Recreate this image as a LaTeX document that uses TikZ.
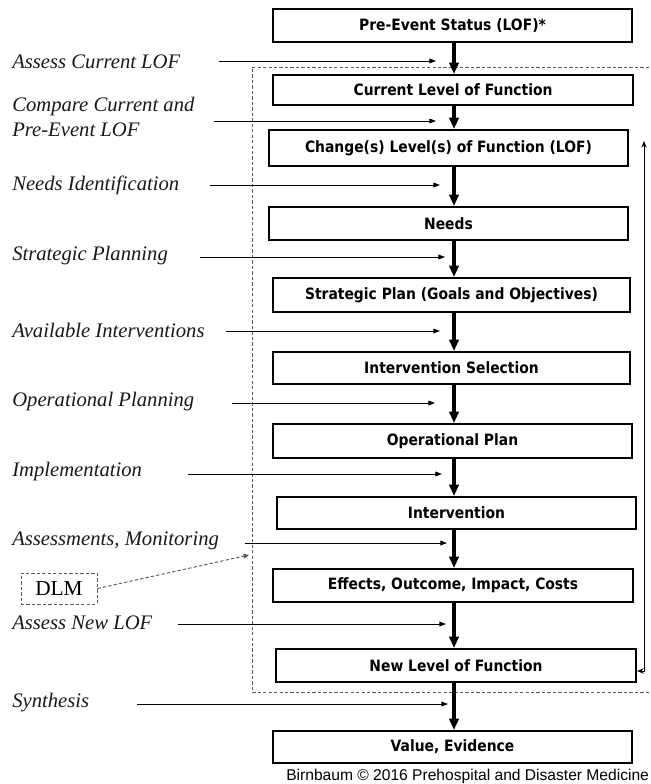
\documentclass[tikz,border=0pt]{standalone}
\usepackage{fontspec}
\setmainfont{Liberation Serif}
\newfontfamily\boxfont[FakeStretch=0.89]{DejaVu Sans}
\newfontfamily\creditfont{Liberation Sans}
\usetikzlibrary{arrows.meta}
\begin{document}
\begin{tikzpicture}[x=0.75pt,y=-0.75pt,
  box/.style={draw, line width=1.5pt, fill=white, inner sep=0pt,
    font=\boxfont\bfseries\fontsize{11.7}{13}\selectfont},
  lbl/.style={anchor=west, inner sep=0pt, align=left, text=black!90,
    font=\itshape\fontsize{15.5}{18.75}\selectfont},
  flow/.style={line width=2.3pt, -{Triangle[length=8.5pt,width=7pt]}},
  inarr/.style={line width=0.7pt, -{Triangle[length=5pt,width=3.6pt]}},
  grpdash/.style={line width=0.7pt, draw=black!65, dash pattern=on 2.5pt off 1.6pt},
  fbarr/.style={line width=0.7pt, {Stealth[length=5pt,width=4pt]}-{Stealth[length=5pt,width=4pt]}}]
\useasboundingbox (0,0) rectangle (650,784);
\fill[white] (0,0) rectangle (650,784);

% group (dashed) region
\draw[grpdash] (660,67) -- (252,67) -- (252,692) -- (660,692);

% boxes
\node[box, minimum width=269.25pt, minimum height=24.75pt] (pre)    at (452.5,25.5) {Pre-Event Status (LOF)*};
\node[box, minimum width=270pt,    minimum height=22.5pt]  (cur)    at (453,90)     {Current Level of Function};
\node[box, minimum width=269.25pt, minimum height=27pt]    (chg)    at (448.5,148)  {Change(s) Level(s) of Function (LOF)};
\node[box, minimum width=269.25pt, minimum height=24.75pt] (needs)  at (448.5,223.5){Needs};
\node[box, minimum width=267.75pt, minimum height=25.5pt]  (strat)  at (451.5,295)  {Strategic Plan (Goals and Objectives)};
\node[box, minimum width=267.75pt, minimum height=24pt]    (isel)   at (451.5,368)  {Intervention Selection};
\node[box, minimum width=269.25pt, minimum height=25.5pt]  (oplan)  at (452.5,441)  {Operational Plan};
\node[box, minimum width=269.25pt, minimum height=24pt]    (interv) at (456.5,513)  {Intervention};
\node[box, minimum width=270pt,    minimum height=24.75pt] (eff)    at (453,585.5)  {Effects, Outcome, Impact, Costs};
\node[box, minimum width=270pt,    minimum height=24.75pt] (newlof) at (456,665.5)  {New Level of Function};
\node[box, minimum width=269.25pt, minimum height=24pt]    (value)  at (452.5,747)  {Value, Evidence};

% main flow arrows
\coordinate (ax) at (454,0);
\draw[flow] (pre.south -| ax)    -- (cur.north -| ax);
\draw[flow] (cur.south -| ax)    -- (chg.north -| ax);
\draw[flow] (chg.south -| ax)    -- (needs.north -| ax);
\draw[flow] (needs.south -| ax)  -- (strat.north -| ax);
\draw[flow] (strat.south -| ax)  -- (isel.north -| ax);
\draw[flow] (isel.south -| ax)   -- (oplan.north -| ax);
\draw[flow] (oplan.south -| ax)  -- (interv.north -| ax);
\draw[flow] (interv.south -| ax) -- (eff.north -| ax);
\draw[flow] (eff.south -| ax)    -- (newlof.north -| ax);
\draw[flow] (newlof.south -| ax) -- (value.north -| ax);

% feedback loop
\coordinate (fbtop) at (644,141);
\coordinate (fbbot) at (644,671);
\draw[fbarr] (fbtop) -- (fbbot) -- (fbbot -| newlof.east);

% left labels
\node[lbl] (l1)  at (12,62)    {Assess Current LOF};
\node[lbl] (l2)  at (12,116.5) {Compare Current and\\Pre-Event LOF};
\node[lbl] (l3)  at (12,185)   {Needs Identification};
\node[lbl] (l4)  at (12,256)   {Strategic Planning};
\node[lbl] (l5)  at (12,330)   {Available Interventions};
\node[lbl] (l6)  at (12,402)   {Operational Planning};
\node[lbl] (l7)  at (12,472)   {Implementation};
\node[lbl] (l8)  at (12,541)   {Assessments, Monitoring};
\node[lbl] (l9)  at (12,623)   {Assess New LOF};
\node[lbl] (l10) at (12,703)   {Synthesis};

% input arrows
\coordinate (a1s) at (219,61);   \coordinate (a1e) at (436,61);
\coordinate (a2s) at (214,121);  \coordinate (a2e) at (436,121);
\coordinate (a3s) at (210,185);  \coordinate (a3e) at (440,185);
\coordinate (a4s) at (200,257);  \coordinate (a4e) at (445,257);
\coordinate (a5s) at (226,331);  \coordinate (a5e) at (440,331);
\coordinate (a6s) at (232,403);  \coordinate (a6e) at (435,403);
\coordinate (a7s) at (188,474);  \coordinate (a7e) at (442,474);
\coordinate (a8s) at (245,543);  \coordinate (a8e) at (447,543);
\coordinate (a9s) at (178,624);  \coordinate (a9e) at (446,624);
\coordinate (a10s) at (137,704); \coordinate (a10e) at (448,704);
\foreach \i in {1,...,10} \draw[inarr] (a\i s) -- (a\i e);

% DLM
\node[draw=black!65, line width=0.7pt, dash pattern=on 2.5pt off 1.6pt,
  minimum width=57pt, minimum height=23.25pt, inner sep=0pt,
  font=\fontsize{16}{18}\selectfont] (dlm) at (59,588.5) {DLM};
\coordinate (dlmend) at (249,555);
\draw[grpdash, -{Triangle[length=4pt,width=3.5pt]}] (dlm.east) -- (dlmend);

% credit
\node[anchor=base west, inner sep=0pt, font=\creditfont\fontsize{11.7}{13}\selectfont] (credit) at (286,780)
  {Birnbaum \textcopyright{} 2016 Prehospital and Disaster Medicine};
\end{tikzpicture}
\end{document}
